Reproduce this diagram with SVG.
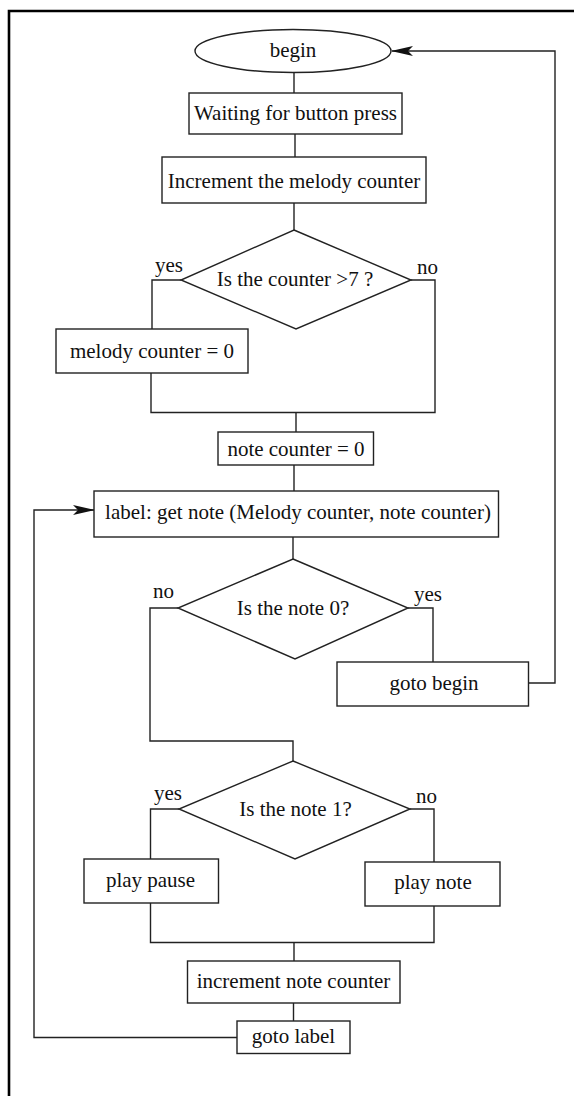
<svg xmlns="http://www.w3.org/2000/svg" width="574" height="1096" viewBox="0 0 574 1096">
<style>
.n{fill:#fff;stroke:#222;stroke-width:1.4}
.c{fill:none;stroke:#222;stroke-width:1.4}
text{font-family:"Liberation Serif","Times New Roman",serif;font-size:21px;fill:#111}
.m{text-anchor:middle}
</style>
<defs>
<marker id="ah" markerWidth="22" markerHeight="10" refX="21" refY="5" orient="auto" markerUnits="userSpaceOnUse">
<path d="M0,0 L22,5 L0,10 L5,5 Z" fill="#111"/>
</marker>
</defs>
<rect width="574" height="1096" fill="#fff"/>
<path d="M9,1100 V11 H580" fill="none" stroke="#000" stroke-width="2.6"/>
<g id="connectors">
<path class="c" d="M294,73 V93"/>
<path class="c" d="M295,134 V157"/>
<path class="c" d="M294,203 V230"/>
<path class="c" d="M181,280 H152 V329"/>
<path class="c" d="M411,280 H435 V412.5 H151 V373"/>
<path class="c" d="M296,412.5 V432"/>
<path class="c" d="M294,465 V491"/>
<path class="c" d="M293,537 V559"/>
<path class="c" d="M408,608 H433 V662"/>
<path class="c" d="M529,683 H555 V51 H392" marker-end="url(#ah)"/>
<path class="c" d="M178,608 H150 V741 H293 V761"/>
<path class="c" d="M179,809 H150.5 V859"/>
<path class="c" d="M410,809 H434 V862"/>
<path class="c" d="M150.5,903 V942.5 H434 V906"/>
<path class="c" d="M294,942.5 V961"/>
<path class="c" d="M293.5,1003 V1021"/>
<path class="c" d="M237,1037.5 H34 V510 H94" marker-end="url(#ah)"/>
</g>
<g id="begin">
<ellipse class="n" cx="293" cy="51" rx="98" ry="21.5"/>
<text class="m" x="293" y="57">begin</text>
</g>
<g id="waiting">
<rect class="n" x="189" y="93" width="213" height="41"/>
<text class="m" x="295.5" y="120">Waiting for button press</text>
</g>
<g id="increment-melody">
<rect class="n" x="162" y="157" width="264" height="46"/>
<text class="m" x="294" y="188">Increment the melody counter</text>
</g>
<g id="decision-counter">
<polygon class="n" points="294,230 411,280 296,329 181,280"/>
<text class="m" x="295" y="286">Is the counter &gt;7 ?</text>
<text x="155" y="272">yes</text>
<text x="417" y="274">no</text>
</g>
<g id="melody-reset">
<rect class="n" x="56" y="329" width="192" height="44"/>
<text class="m" x="152" y="358">melody counter = 0</text>
</g>
<g id="note-reset">
<rect class="n" x="218" y="432" width="155.5" height="33"/>
<text class="m" x="296" y="455.5">note counter = 0</text>
</g>
<g id="get-note">
<rect class="n" x="94" y="491" width="404.5" height="46"/>
<text class="m" x="298" y="519">label: get note (Melody counter, note counter)</text>
</g>
<g id="decision-note0">
<polygon class="n" points="293,559 408,608 295,659 178,608"/>
<text class="m" x="293" y="615">Is the note 0?</text>
<text x="153" y="598">no</text>
<text x="414" y="601">yes</text>
</g>
<g id="goto-begin">
<rect class="n" x="337" y="662" width="191.5" height="44"/>
<text class="m" x="434" y="690">goto begin</text>
</g>
<g id="decision-note1">
<polygon class="n" points="293,761 410,809 295,859 179,809"/>
<text class="m" x="295.5" y="816">Is the note 1?</text>
<text x="154" y="800">yes</text>
<text x="416" y="803">no</text>
</g>
<g id="play-pause">
<rect class="n" x="84" y="859" width="134.5" height="44"/>
<text class="m" x="150.5" y="887">play pause</text>
</g>
<g id="play-note">
<rect class="n" x="365" y="862" width="135" height="44"/>
<text class="m" x="433" y="889">play note</text>
</g>
<g id="increment-note">
<rect class="n" x="187.5" y="961" width="212.5" height="42"/>
<text class="m" x="293.5" y="988">increment note counter</text>
</g>
<g id="goto-label">
<rect class="n" x="237" y="1021" width="113" height="32.5"/>
<text class="m" x="293.5" y="1043">goto label</text>
</g>
</svg>
